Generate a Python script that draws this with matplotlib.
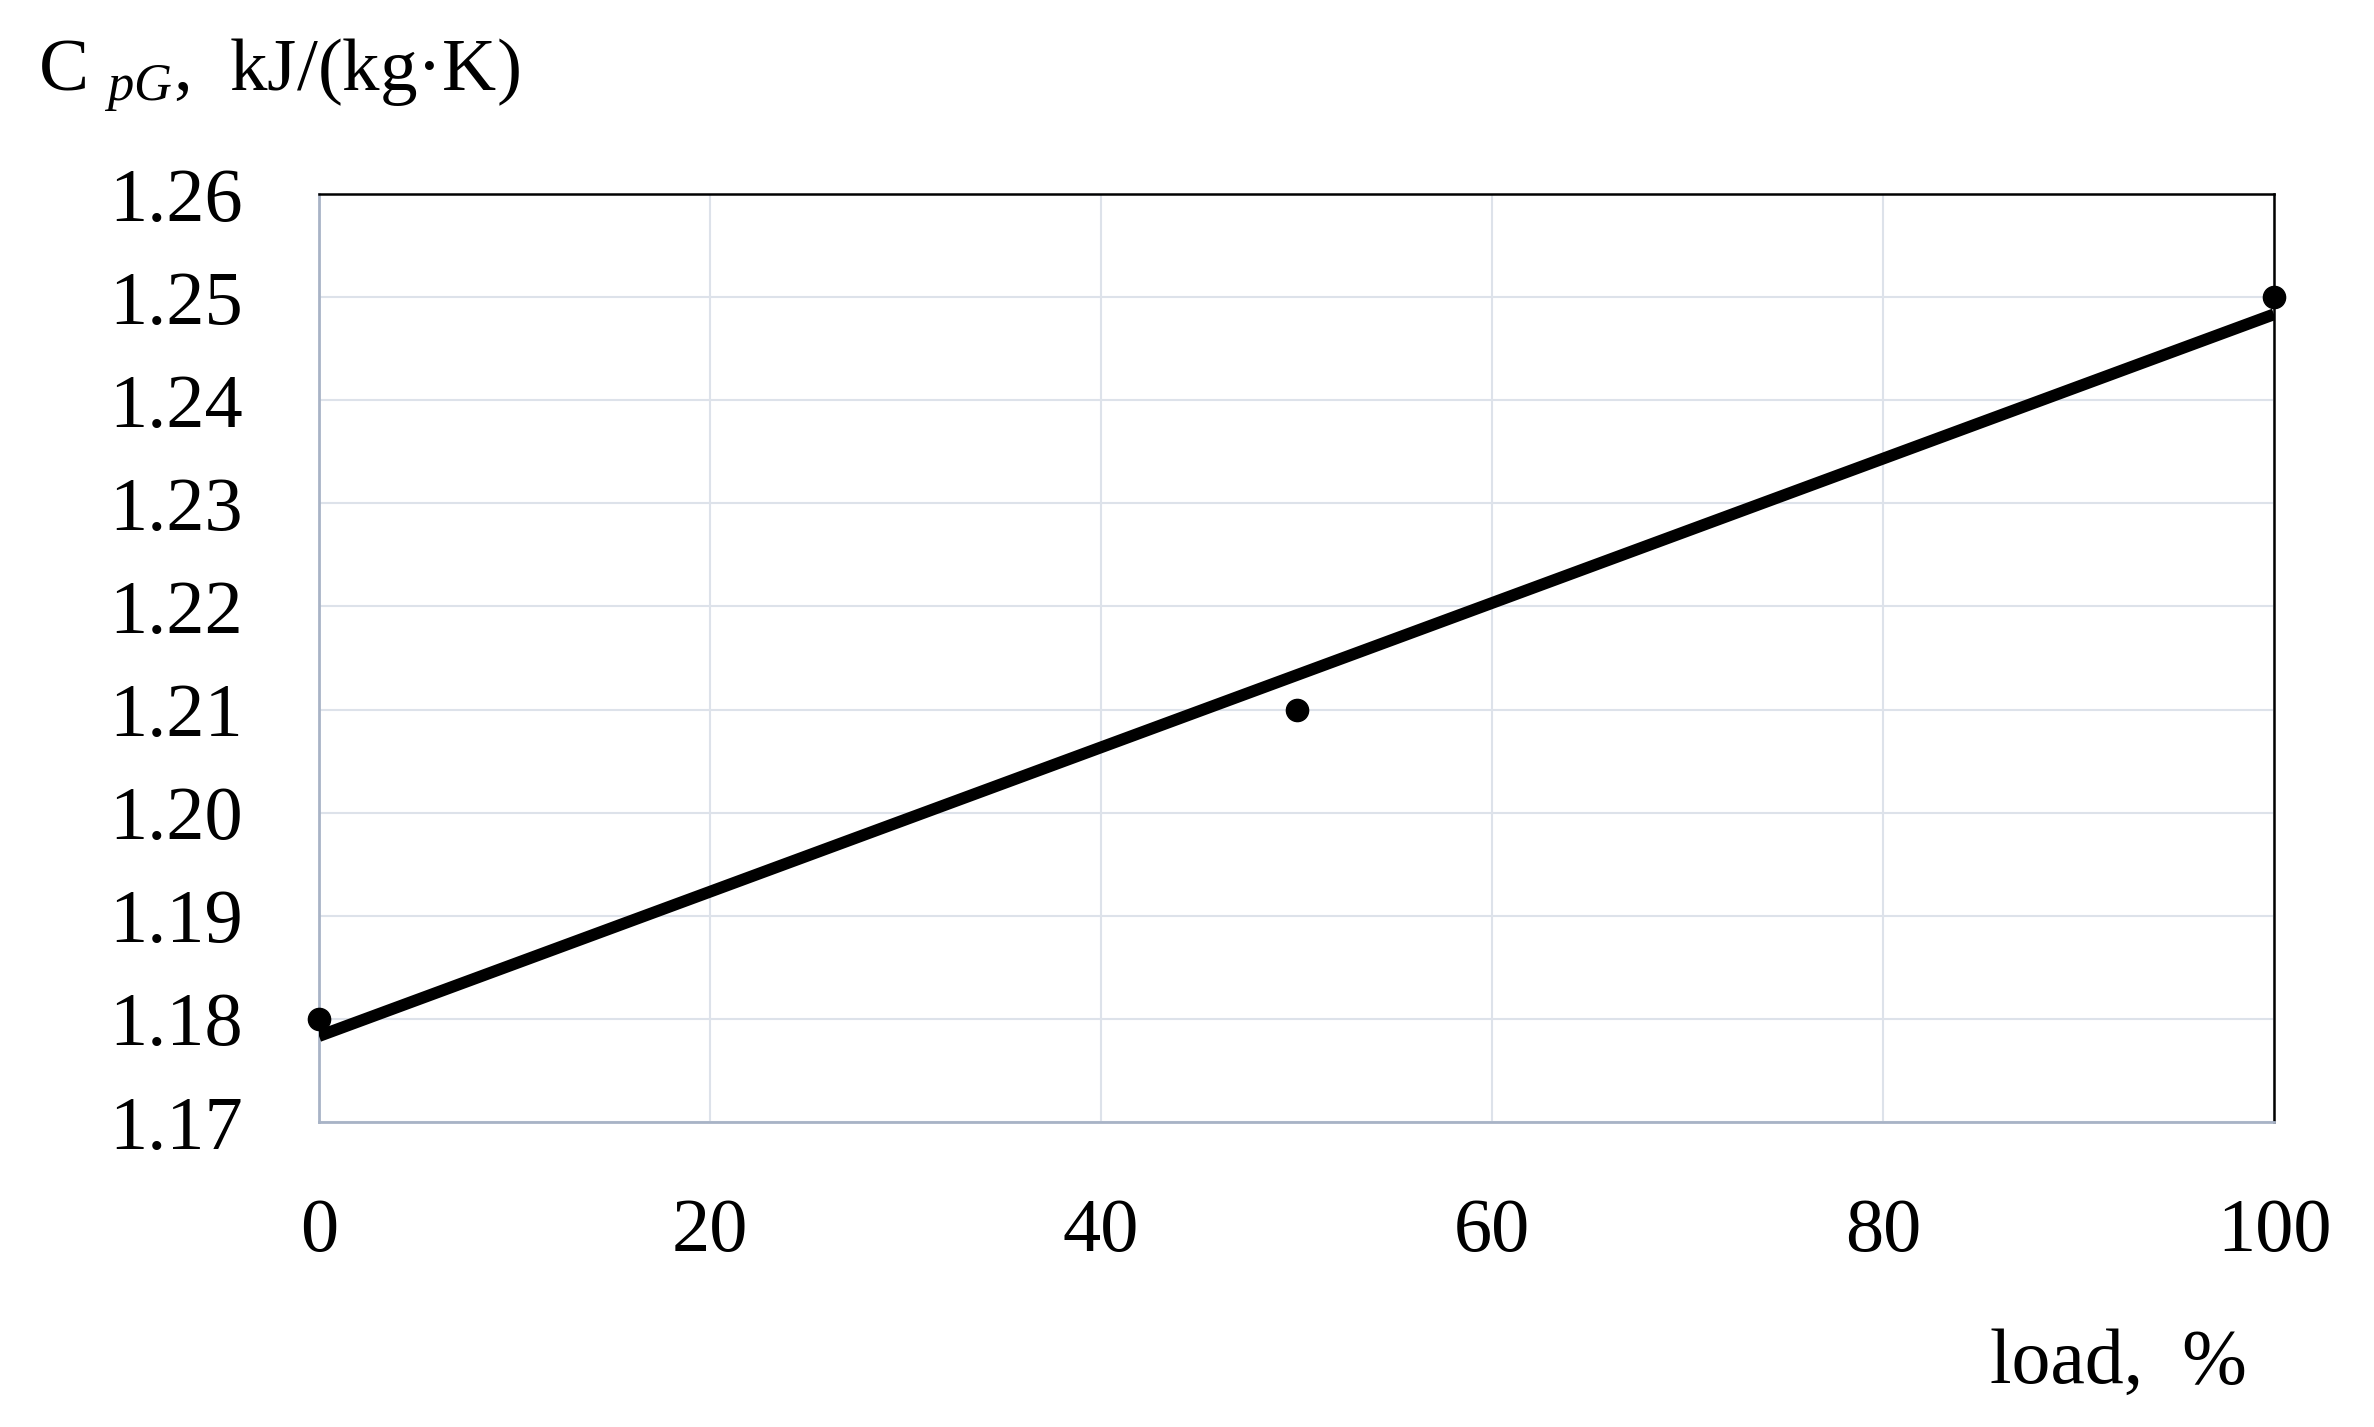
import matplotlib
matplotlib.use("Agg")
import matplotlib.pyplot as plt
import numpy as np

# data
load = [0, 50, 100]
cpg = [1.18, 1.21, 1.25]
x_ticks = [0, 20, 40, 60, 80, 100]
y_ticks = [1.17, 1.18, 1.19, 1.20, 1.21, 1.22, 1.23, 1.24, 1.25, 1.26]

plt.rcParams['font.family'] = ['Liberation Serif', 'DejaVu Serif']
plt.rcParams['mathtext.fontset'] = 'custom'
plt.rcParams['mathtext.rm'] = 'Liberation Serif'
plt.rcParams['mathtext.it'] = 'Liberation Serif:italic'

W, H = 2374, 1427
fig = plt.figure(figsize=(W / 100, H / 100), dpi=100)
ax = fig.add_axes([319 / W, 1 - 1122 / H, (2274 - 319) / W, (1122 - 194) / H])

# linear trend line
k, b = np.polyfit(load, cpg, 1)
xl = np.array([0, 100])
ax.plot(xl, k * xl + b, color='black', lw=8.5, solid_capstyle='butt', zorder=3)
ax.plot(load, cpg, 'o', color='black', ms=16, zorder=4, clip_on=False)

ax.set_xlim(0, 100)
ax.set_ylim(1.17, 1.26)
ax.set_xticks(x_ticks)
ax.set_yticks(y_ticks)
ax.set_yticklabels([f"{v:.2f}" for v in y_ticks])
ax.grid(True, color='#dde2ea', lw=1.5)
ax.set_axisbelow(True)
ax.tick_params(length=0, labelsize=55)
ax.tick_params(axis='y', pad=55)
ax.tick_params(axis='x', pad=55)

ax.spines['left'].set_color('#a8b3c6')
ax.spines['bottom'].set_color('#a8b3c6')
ax.spines['left'].set_linewidth(2)
ax.spines['bottom'].set_linewidth(2)
ax.spines['top'].set_linewidth(1.8)
ax.spines['right'].set_linewidth(1.8)

fig.text(38 / W, 1 - 90 / H, r'C $_{\mathit{pG}}$,  kJ/(kg·K)', fontsize=54,
         ha='left', va='baseline')
fig.text(1990 / W, 1 - 1383 / H, 'load,  %', fontsize=56, ha='left', va='baseline')

fig.savefig('out.png', dpi=100)
